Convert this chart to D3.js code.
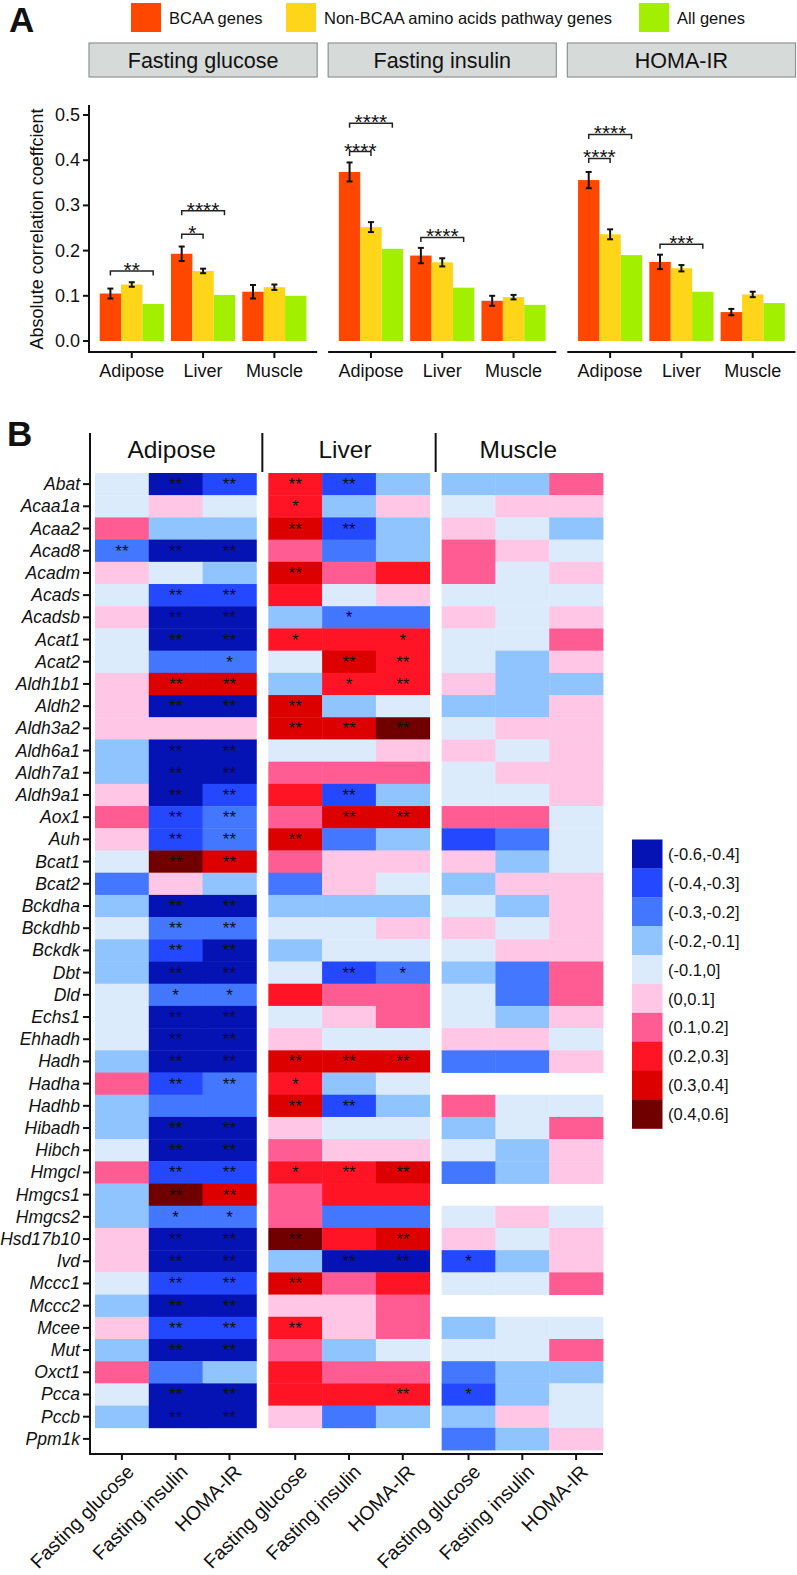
<!DOCTYPE html>
<html><head><meta charset="utf-8">
<script src="https://cdn.jsdelivr.net/npm/d3@7"></script>
<style>
body{margin:0;background:#fff}
svg{display:block}
text{font-family:"Liberation Sans",Arial,Helvetica,sans-serif;fill:#111}
</style>
</head><body><svg id="chart" width="797" height="1575"></svg>
<script>
// ---------- Panel A data ----------
const traits = ["Fasting glucose", "Fasting insulin", "HOMA-IR"];
const tissues = ["Adipose", "Liver", "Muscle"];
const seriesNames = ["BCAA genes", "Non-BCAA amino acids pathway genes", "All genes"];
const seriesColors = ["#FF4700", "#FFD51A", "#A3EF00"];
const yTicks = [0, 0.1, 0.2, 0.3, 0.4, 0.5];
// rows = tissues, cols = series
const glucoseValues = [[0.105, 0.125, 0.082], [0.193, 0.155, 0.102], [0.109, 0.119, 0.100]];
const glucoseErrors = [[0.011, 0.005, null], [0.016, 0.005, null], [0.015, 0.006, null]];
const insulinValues = [[0.374, 0.252, 0.204], [0.189, 0.174, 0.118], [0.089, 0.097, 0.080]];
const insulinErrors = [[0.021, 0.011, null], [0.017, 0.009, null], [0.011, 0.005, null]];
const homaValues = [[0.356, 0.236, 0.190], [0.175, 0.161, 0.109], [0.064, 0.103, 0.084]];
const homaErrors = [[0.018, 0.011, null], [0.016, 0.007, null], [0.007, 0.006, null]];
// significance brackets: trait, tissue, from series 0 to series, y, label
const bracketTraits = ["Fasting glucose", "Fasting glucose", "Fasting glucose", "Fasting insulin", "Fasting insulin", "Fasting insulin", "HOMA-IR", "HOMA-IR", "HOMA-IR"];
const bracketTissues = ["Adipose", "Liver", "Liver", "Adipose", "Adipose", "Liver", "Adipose", "Adipose", "Liver"];
const bracketTo = [2, 1, 2, 1, 2, 2, 1, 2, 2];
const bracketY = [0.155, 0.236, 0.288, 0.419, 0.482, 0.229, 0.404, 0.457, 0.214];
const bracketLabels = ["**", "*", "****", "****", "****", "****", "****", "****", "***"];

// ---------- Panel B data ----------
const genes = ["Abat","Acaa1a","Acaa2","Acad8","Acadm","Acads","Acadsb","Acat1","Acat2","Aldh1b1","Aldh2","Aldh3a2","Aldh6a1","Aldh7a1","Aldh9a1","Aox1","Auh","Bcat1","Bcat2","Bckdha","Bckdhb","Bckdk","Dbt","Dld","Echs1","Ehhadh","Hadh","Hadha","Hadhb","Hibadh","Hibch","Hmgcl","Hmgcs1","Hmgcs2","Hsd17b10","Ivd","Mccc1","Mccc2","Mcee","Mut","Oxct1","Pcca","Pccb","Ppm1k"];
const heatTraits = ["Fasting glucose", "Fasting insulin", "HOMA-IR"];
// correlation estimates (FG, FI, HOMA-IR) per gene
const adiposeValues = [
[-0.05,-0.5,-0.35],[-0.05,0.05,-0.05],[0.15,-0.15,-0.15],[-0.25,-0.5,-0.5],[0.05,-0.05,-0.15],
[-0.05,-0.35,-0.35],[0.05,-0.5,-0.5],[-0.05,-0.5,-0.5],[-0.05,-0.25,-0.25],[0.05,0.35,0.35],
[0.05,-0.5,-0.5],[0.05,0.05,0.05],[-0.15,-0.5,-0.5],[-0.15,-0.5,-0.5],[0.05,-0.5,-0.35],
[0.15,-0.35,-0.25],[0.05,-0.35,-0.25],[-0.05,0.5,0.35],[-0.25,0.05,-0.15],[-0.15,-0.5,-0.5],
[-0.05,-0.25,-0.25],[-0.15,-0.35,-0.5],[-0.15,-0.5,-0.5],[-0.05,-0.25,-0.25],[-0.05,-0.5,-0.5],
[-0.05,-0.5,-0.5],[-0.15,-0.5,-0.5],[0.15,-0.35,-0.25],[-0.15,-0.25,-0.25],[-0.15,-0.5,-0.5],
[-0.05,-0.5,-0.5],[0.15,-0.35,-0.35],[-0.15,0.5,0.35],[-0.15,-0.25,-0.25],[0.05,-0.5,-0.5],
[0.05,-0.5,-0.5],[-0.05,-0.35,-0.35],[-0.15,-0.5,-0.5],[0.05,-0.35,-0.35],[-0.15,-0.5,-0.5],
[0.15,-0.25,-0.15],[-0.05,-0.5,-0.5],[-0.15,-0.5,-0.5],[null,null,null]];
const liverValues = [
[0.25,-0.35,-0.15],[0.25,-0.15,0.05],[0.35,-0.35,-0.15],[0.15,-0.25,-0.15],[0.35,0.15,0.25],
[0.25,-0.05,0.05],[-0.15,-0.25,-0.25],[0.25,0.25,0.25],[-0.05,0.35,0.25],[-0.15,0.25,0.25],
[0.35,-0.15,-0.05],[0.35,0.35,0.5],[-0.05,-0.05,0.05],[0.15,0.15,0.15],[0.25,-0.35,-0.15],
[0.15,0.35,0.35],[0.35,-0.25,-0.15],[0.15,0.05,0.05],[-0.25,0.05,-0.05],[-0.15,-0.15,-0.15],
[-0.05,-0.05,0.05],[-0.15,-0.05,-0.05],[-0.05,-0.35,-0.25],[0.25,0.15,0.15],[-0.05,0.05,0.15],
[0.05,-0.05,-0.05],[0.35,0.35,0.35],[0.25,-0.15,-0.05],[0.35,-0.35,-0.15],[0.05,-0.05,-0.05],
[0.15,0.05,0.05],[0.25,0.25,0.35],[0.15,0.25,0.25],[0.15,-0.25,-0.25],[0.5,0.25,0.35],
[-0.15,-0.5,-0.5],[0.35,0.15,0.25],[0.05,0.05,0.15],[0.25,0.05,0.15],[0.15,-0.15,-0.05],
[0.25,0.15,0.15],[0.25,0.25,0.25],[0.05,-0.25,-0.15],[null,null,null]];
const muscleValues = [
[-0.15,-0.15,0.15],[-0.05,0.05,0.05],[0.05,-0.05,-0.15],[0.15,0.05,-0.05],[0.15,-0.05,0.05],
[-0.05,-0.05,-0.05],[0.05,-0.05,0.05],[-0.05,-0.05,0.15],[-0.05,-0.15,0.05],[0.05,-0.15,-0.15],
[-0.15,-0.15,0.05],[-0.05,0.05,0.05],[0.05,-0.05,0.05],[-0.05,0.05,0.05],[-0.05,-0.05,0.05],
[0.15,0.15,-0.05],[-0.35,-0.25,-0.05],[0.05,-0.15,-0.05],[-0.15,0.05,0.05],[-0.05,-0.15,0.05],
[0.05,-0.05,0.05],[-0.05,0.05,0.05],[-0.15,-0.25,0.15],[-0.05,-0.25,0.15],[-0.05,-0.15,0.05],
[0.05,0.05,-0.05],[-0.25,-0.25,0.05],[null,null,null],[0.15,-0.05,-0.05],[-0.15,-0.05,0.15],
[-0.05,-0.15,0.05],[-0.25,-0.15,0.05],[null,null,null],[-0.05,0.05,-0.05],[0.05,-0.05,0.05],
[-0.35,-0.15,0.05],[-0.05,-0.05,0.15],[null,null,null],[-0.15,-0.05,-0.05],[-0.05,-0.05,0.15],
[-0.25,-0.15,-0.15],[-0.35,-0.15,-0.05],[-0.15,0.05,-0.05],[-0.25,-0.15,0.05]];
// number of significance stars per cell
const adiposeStars = [
[0,2,2],[0,0,0],[0,0,0],[2,2,2],[0,0,0],[0,2,2],[0,2,2],[0,2,2],[0,0,1],[0,2,2],
[0,2,2],[0,0,0],[0,2,2],[0,2,2],[0,2,2],[0,2,2],[0,2,2],[0,2,2],[0,0,0],[0,2,2],
[0,2,2],[0,2,2],[0,2,2],[0,1,1],[0,2,2],[0,2,2],[0,2,2],[0,2,2],[0,0,0],[0,2,2],
[0,2,2],[0,2,2],[0,2,2],[0,1,1],[0,2,2],[0,2,2],[0,2,2],[0,2,2],[0,2,2],[0,2,2],
[0,0,0],[0,2,2],[0,2,2],[0,0,0]];
const liverStars = [
[2,2,0],[1,0,0],[2,2,0],[0,0,0],[2,0,0],[0,0,0],[0,1,0],[1,0,1],[0,2,2],[0,1,2],
[2,0,0],[2,2,2],[0,0,0],[0,0,0],[0,2,0],[0,2,2],[2,0,0],[0,0,0],[0,0,0],[0,0,0],
[0,0,0],[0,0,0],[0,2,1],[0,0,0],[0,0,0],[0,0,0],[2,2,2],[1,0,0],[2,2,0],[0,0,0],
[0,0,0],[1,2,2],[0,0,0],[0,0,0],[2,0,2],[0,2,2],[2,0,0],[0,0,0],[2,0,0],[0,0,0],
[0,0,0],[0,0,2],[0,0,0],[0,0,0]];
const muscleStarGenes = ["Ivd", "Pcca"];
const muscleStars = genes.map(g => muscleStarGenes.includes(g) ? [1,0,0] : [0,0,0]);
const binLabels = ["(-0.6,-0.4]","(-0.4,-0.3]","(-0.3,-0.2]","(-0.2,-0.1]","(-0.1,0]","(0,0.1]","(0.1,0.2]","(0.2,0.3]","(0.3,0.4]","(0.4,0.6]"];
const binBreaks = [-0.4,-0.3,-0.2,-0.1,0,0.1,0.2,0.3,0.4];
const binColors = ["#0512B4","#2448FF","#4477FF","#90C4FF","#DCEBFC","#FFC7E5","#FF5C93","#FF1426","#DD0000","#700000"];

// ---------- drawing ----------
const svg = d3.select("#chart");

// Panel letters
svg.append("text").attr("x", 9).attr("y", 32).attr("font-size", 35).attr("font-weight", "bold").text("A");
svg.append("text").attr("x", 7).attr("y", 446).attr("font-size", 35).attr("font-weight", "bold").text("B");

// Legend A
const legX = [131, 286, 639];
seriesNames.forEach((s, i) => {
  svg.append("rect").attr("x", legX[i]).attr("y", 3).attr("width", 30).attr("height", 29).attr("fill", seriesColors[i]);
  svg.append("text").attr("x", legX[i] + 38).attr("y", 17.5).attr("dominant-baseline", "central")
    .attr("font-size", 16.5).text(s);
});

const valuesByTrait = [glucoseValues, insulinValues, homaValues];
const errorsByTrait = [glucoseErrors, insulinErrors, homaErrors];
const fx = d3.scaleBand().domain(traits).range([89, 795.5]).paddingInner(0.046);
const yA = d3.scaleLinear().domain([0, 0.5]).range([341, 115]);
const axisY = 352, panelTop = 105;

traits.forEach((t, ti) => {
  const left = fx(t), bw = fx.bandwidth();
  const g = svg.append("g").attr("transform", `translate(${left},0)`);
  // strip
  g.append("rect").attr("x", 0).attr("y", 43).attr("width", bw).attr("height", 34)
    .attr("fill", "#D6DAD9").attr("stroke", "#8E9392").attr("stroke-width", 1.2);
  g.append("text").attr("x", bw / 2).attr("y", 60.5).attr("text-anchor", "middle")
    .attr("dominant-baseline", "central").attr("font-size", 21.5).text(t);
  const xin = d3.scaleBand().domain(tissues).range([0, bw]).paddingInner(0.1).paddingOuter(0.15);
  const xs = d3.scaleBand().domain(d3.range(3)).range([0, xin.bandwidth()]);
  tissues.forEach((ts, k) => {
    valuesByTrait[ti][k].forEach((v, s) => {
      const x0 = xin(ts) + xs(s);
      g.append("rect").attr("x", x0).attr("y", yA(v)).attr("width", xs.bandwidth())
        .attr("height", yA(0) - yA(v)).attr("fill", seriesColors[s]);
      const e = errorsByTrait[ti][k][s];
      if (e != null) {
        const cx = x0 + xs.bandwidth() / 2;
        g.append("line").attr("x1", cx).attr("x2", cx).attr("y1", yA(v - e)).attr("y2", yA(v + e))
          .attr("stroke", "#111").attr("stroke-width", 2);
        [v - e, v + e].forEach(ev => g.append("line").attr("x1", cx - 3).attr("x2", cx + 3)
          .attr("y1", yA(ev)).attr("y2", yA(ev)).attr("stroke", "#111").attr("stroke-width", 2));
      }
    });
    // x tick + label
    const cx = xin(ts) + xin.bandwidth() / 2;
    g.append("line").attr("x1", cx).attr("x2", cx).attr("y1", axisY).attr("y2", axisY + 6)
      .attr("stroke", "#111").attr("stroke-width", 2);
    g.append("text").attr("x", cx).attr("y", 377).attr("text-anchor", "middle")
      .attr("font-size", 18).text(ts);
  });
  g.append("line").attr("x1", 0).attr("x2", bw).attr("y1", axisY).attr("y2", axisY)
    .attr("stroke", "#111").attr("stroke-width", 2);
  // brackets
  bracketTraits.forEach((bt, bi) => {
    if (bt !== t) return;
    const ts = bracketTissues[bi];
    const xa = xin(ts) + xs(0) + xs.bandwidth() / 2;
    const xb = xin(ts) + xs(bracketTo[bi]) + xs.bandwidth() / 2;
    const yb = yA(bracketY[bi]), tip = 4.5;
    g.append("path").attr("d", `M${xa},${yb + tip}V${yb}H${xb}V${yb + tip}`)
      .attr("fill", "none").attr("stroke", "#222").attr("stroke-width", 1.5);
    g.append("text").attr("x", (xa + xb) / 2).attr("y", yb + 6).attr("text-anchor", "middle")
      .attr("font-size", 21).text(bracketLabels[bi]);
  });
});
// y axis A
svg.append("line").attr("x1", 89).attr("x2", 89).attr("y1", panelTop).attr("y2", axisY + 1)
  .attr("stroke", "#111").attr("stroke-width", 2);
yTicks.forEach(v => {
  svg.append("line").attr("x1", 83).attr("x2", 89).attr("y1", yA(v)).attr("y2", yA(v))
    .attr("stroke", "#111").attr("stroke-width", 2);
  svg.append("text").attr("x", 80).attr("y", yA(v)).attr("dominant-baseline", "central")
    .attr("text-anchor", "end").attr("font-size", 18).text(d3.format(".1f")(v));
});
svg.append("text").attr("transform", `translate(43,229) rotate(-90)`).attr("text-anchor", "middle")
  .attr("font-size", 18).text("Absolute correlation coeffcient");

// ---------- Panel B heatmap ----------
const hx = d3.scaleBand().domain(tissues).range([95, 603]).paddingInner(0.069);
const hxc = d3.scaleBand().domain(heatTraits).range([0, hx.bandwidth()]);
const hy = d3.scaleBand().domain(genes).range([473, 1450]);
const color = d3.scaleThreshold().domain(binBreaks).range(binColors);
const heatValues = [adiposeValues, liverValues, muscleValues];
const heatStars = [adiposeStars, liverStars, muscleStars];
const hb = svg.append("g");
tissues.forEach((ts, k) => {
  genes.forEach((gname, gi) => {
    heatTraits.forEach((tr, j) => {
      const v = heatValues[k][gi][j];
      if (v == null) return;
      const x = hx(ts) + hxc(tr);
      hb.append("rect").attr("x", x).attr("y", hy(gname)).attr("width", hxc.bandwidth() + 0.4)
        .attr("height", hy.bandwidth() + 0.4).attr("fill", color(v));
    });
  });
});
tissues.forEach((ts, k) => {
  genes.forEach((gname, gi) => {
    heatTraits.forEach((tr, j) => {
      const n = heatStars[k][gi][j];
      if (!n) return;
      const x = hx(ts) + hxc(tr) + hxc.bandwidth() / 2;
      hb.append("text").attr("x", x).attr("y", hy(gname) + hy.bandwidth() / 2 + 6)
        .attr("text-anchor", "middle").attr("font-size", 17).attr("fill", "#111").text("*".repeat(n));
    });
  });
});
// tissue headers and separators
tissues.forEach((ts, k) => {
  svg.append("text").attr("x", hx(ts) + hx.bandwidth() / 2 - 4).attr("y", 458).attr("text-anchor", "middle")
    .attr("font-size", 24.5).text(ts);
  if (k > 0) {
    const sx = hx(ts) - (hx.step() - hx.bandwidth()) / 2;
    svg.append("line").attr("x1", sx).attr("x2", sx).attr("y1", 433).attr("y2", 472)
      .attr("stroke", "#111").attr("stroke-width", 2);
  }
});
// left axis
const axL = 90, axB = 1454;
svg.append("line").attr("x1", axL).attr("x2", axL).attr("y1", 433).attr("y2", axB + 1)
  .attr("stroke", "#111").attr("stroke-width", 2);
genes.forEach(gname => {
  const cy = hy(gname) + hy.bandwidth() / 2;
  svg.append("line").attr("x1", axL - 7).attr("x2", axL).attr("y1", cy).attr("y2", cy)
    .attr("stroke", "#111").attr("stroke-width", 2);
  svg.append("text").attr("x", axL - 10).attr("y", cy).attr("dominant-baseline", "central")
    .attr("text-anchor", "end").attr("font-size", 17.5).attr("font-style", "italic").text(gname);
});
// bottom axis
svg.append("line").attr("x1", axL - 1).attr("x2", 603).attr("y1", axB).attr("y2", axB)
  .attr("stroke", "#111").attr("stroke-width", 2);
tissues.forEach(ts => {
  heatTraits.forEach(tr => {
    const cx = hx(ts) + hxc(tr) + hxc.bandwidth() / 2;
    svg.append("line").attr("x1", cx).attr("x2", cx).attr("y1", axB).attr("y2", axB + 6)
      .attr("stroke", "#111").attr("stroke-width", 2);
    svg.append("text").attr("transform", `translate(${cx + 3},${axB + 9}) rotate(-45)`)
      .attr("text-anchor", "end").attr("dominant-baseline", "hanging")
      .attr("font-size", 19.5).text(tr);
  });
});
// heatmap legend
binLabels.forEach((lab, i) => {
  const y0 = 839.5 + i * 28.9;
  svg.append("rect").attr("x", 632).attr("y", y0).attr("width", 30.5).attr("height", 29.2)
    .attr("fill", binColors[i]);
  svg.append("text").attr("x", 668).attr("y", y0 + 14.5).attr("dominant-baseline", "central")
    .attr("font-size", 16.5).text(lab);
});
</script></body></html>
